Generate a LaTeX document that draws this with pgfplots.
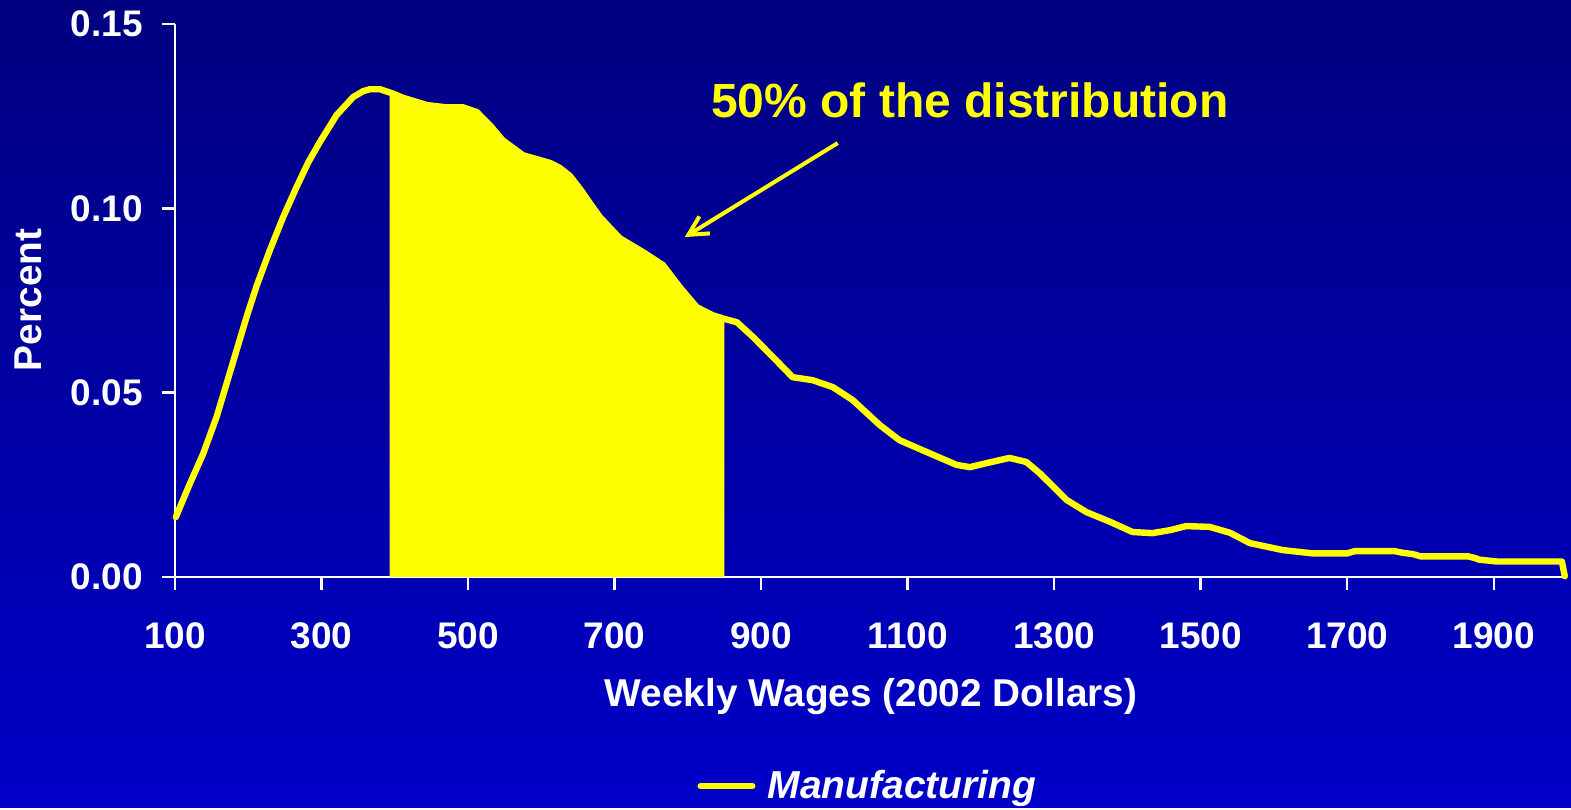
\documentclass[border=0pt]{standalone}
\usepackage{pgfplots}
\pgfplotsset{compat=1.18}
\usepackage{fontspec}
\setmainfont{Liberation Sans}
\usetikzlibrary{backgrounds,calc,arrows.meta}
\definecolor{bgtop}{RGB}{0,0,128}
\definecolor{bgbot}{RGB}{0,0,200}
\definecolor{hy}{RGB}{255,255,0}
\begin{document}
\begin{tikzpicture}
\begin{axis}[name=ax, scale only axis, width=696pt, height=276.5pt,
  xmin=100, xmax=2000, ymin=0, ymax=0.15,
  axis x line*=bottom, axis y line*=left,
  axis line style={white, line width=1.2pt},
  xtick={100,300,500,700,900,1100,1300,1500,1700,1900},
  ytick={0,0.05,0.10,0.15},
  xticklabel style={/pgf/number format/1000 sep={}, yshift=-13pt},
  yticklabel style={/pgf/number format/.cd, fixed, fixed zerofill, precision=2, /tikz/xshift=-6pt},
  /pgf/number format/assume math mode=true,
  tick align=outside, major tick length=6.5pt,
  tick style={white, line width=1.2pt},
  ticklabel style={font=\fontsize{18.5}{20}\selectfont\bfseries, text=white},
  xlabel={Weekly Wages (2002 Dollars)}, ylabel={Percent},
  label style={font=\fontsize{19.4}{21}\selectfont\bfseries, text=white},
  xlabel style={at={(axis description cs:0.5,-0.217)}, anchor=center},
  ylabel style={at={(axis description cs:-0.1056,0.501)}, anchor=center},
  clip=false,
  legend style={at={(axis description cs:0.4985,-0.378)}, anchor=center,
    draw=none, fill=none, text=white,
    font=\fontsize{19.5}{21}\selectfont\bfseries\itshape},
  legend image code/.code={\draw[hy, line width=3pt, line cap=round] (0pt,0pt) -- (26pt,0pt); \path (30pt,0pt);},
]
\addplot[draw=none, fill=hy, forget plot] coordinates {
(393,0.1313) (397.8,0.1311) (411,0.1300) (444,0.1280) (470,0.1274) (493,0.1274) (512,0.1261)
(530,0.1225) (547,0.1185) (575,0.1144) (612,0.1123) (625,0.1110) (639,0.1088) (653,0.1052)
(667,0.1012) (680,0.0976) (707,0.0919) (739,0.0881) (766,0.0846) (789,0.0786) (812,0.0732)
(834,0.0710) (850,0.0700)
} \closedcycle;
\addplot[hy, line width=3.2pt, line join=round, line cap=round] coordinates {
(101,0.0162) (120.5,0.0254) (138.6,0.0335) (156.9,0.0435) (170.5,0.0525)
(184.2,0.0616) (197.8,0.0706) (211.5,0.0790) (229.6,0.0887) (247.8,0.0977) (266,0.1058)
(282,0.1125) (297.8,0.1180) (320.6,0.1253) (343.3,0.1302) (357,0.1318) (366,0.1323)
(380,0.1323) (397.8,0.1311) (411,0.1300) (444,0.1280) (470,0.1274) (493,0.1274)
(512,0.1261) (530,0.1225) (547,0.1185) (575,0.1144) (612,0.1123) (625,0.1110) (639,0.1088)
(653,0.1052) (667,0.1012) (680,0.0976) (707,0.0919) (739,0.0881) (766,0.0846) (789,0.0786)
(812,0.0732) (834,0.0710) (850,0.0700) (867,0.0691) (889,0.0651) (916,0.0597)
(943,0.0542) (970,0.0534) (998,0.0515) (1025,0.0480) (1062,0.0412) (1089,0.0371)
(1126,0.0339) (1167,0.0304) (1185,0.0298) (1208,0.0309) (1239,0.0323) (1262,0.0312)
(1280,0.0282) (1317,0.0209) (1344,0.0176) (1376,0.0150) (1407,0.0122) (1434,0.0119)
(1458,0.0127) (1480,0.0138) (1512,0.0136) (1540,0.0120) (1567,0.0092) (1612,0.0073)
(1653,0.0064) (1700,0.0064) (1710,0.0070) (1765,0.0070) (1775,0.0066) (1790,0.0062)
(1800,0.0056) (1865,0.0056) (1875,0.0051) (1880,0.0047) (1905,0.0042) (1993,0.0042)
(1997,0.0002)
};
\addlegendentry{Manufacturing}
\node[text=hy, font=\fontsize{24}{27}\selectfont\bfseries] at (axis cs:1185,0.1293) {50\% of the distribution};
\draw[hy, line width=2pt, -{Straight Barb[length=9.5pt,width=10pt,line width=2pt]}]
  (axis cs:1004.6,0.1177) -- (axis cs:795.8,0.0922);
\end{axis}
\begin{scope}[on background layer]
\shade[top color=bgtop, bottom color=bgbot]
  ($(ax.south west)+(-87.5pt,-115.5pt)$) rectangle ($(ax.south west)+(698pt,288.5pt)$);
\end{scope}
\end{tikzpicture}
\end{document}
